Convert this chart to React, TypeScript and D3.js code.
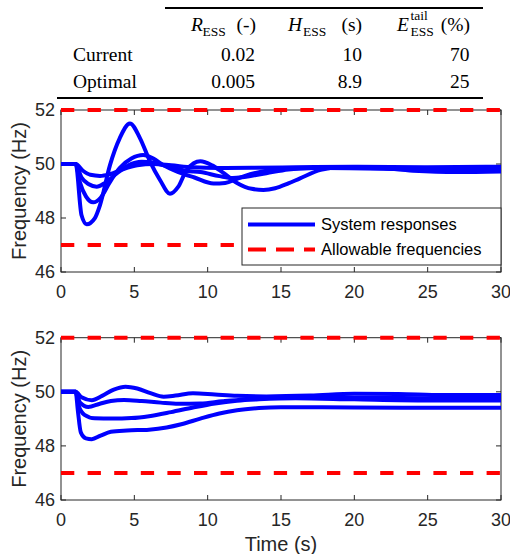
import React, { useEffect, useRef } from "react";
import * as d3 from "d3";

type Pt = [number, number];

// axis ticks and limits
const timeTicks = [0, 5, 10, 15, 20, 25, 30];
const freqTicks = [46, 48, 50, 52];
const freqLimits = [47, 52];

// table content
const rowNames = ["Current", "Optimal"];
const rEss = ["0.02", "0.005"];
const hEss = ["10", "8.9"];
const eTail = ["70", "25"];

const legendLabels = ["System responses", "Allowable frequencies"];

// current parameters: system responses [time (s), frequency (Hz)]
const currentA: Pt[] = [
  [0, 50], [1, 50], [1.4, 48.1], [1.75, 47.77], [2.3, 47.99], [2.66, 48.48], [3.34, 49.96],
  [4.0, 50.95], [4.7, 51.5], [5.39, 50.95], [6.07, 50.09], [6.75, 49.41], [7.43, 48.9],
  [8.0, 49.16], [8.57, 49.78], [9.5, 50.1], [10.3, 49.95], [11.0, 49.7], [12.0, 49.3],
  [13.0, 49.08], [13.8, 49.04], [14.6, 49.1], [15.5, 49.28], [16.3, 49.47], [17.7, 49.78],
  [19, 49.88], [21, 49.88], [24, 49.75], [27, 49.7], [30, 49.72],
];
const currentB: Pt[] = [
  [0, 50], [1, 50], [1.3, 49.3], [1.7, 48.8], [2.2, 48.58], [2.7, 48.75], [3.3, 49.3],
  [4.0, 49.85], [4.8, 50.2], [5.6, 50.33], [6.3, 50.2], [7.0, 49.95], [8.0, 49.7],
  [9.1, 49.5], [10.4, 49.28], [11.2, 49.3], [12.0, 49.45], [12.9, 49.62], [14, 49.75],
  [15.5, 49.82], [18, 49.85], [22, 49.82], [26, 49.76], [30, 49.76],
];
const currentC: Pt[] = [
  [0, 50], [1, 50], [1.4, 49.5], [1.9, 49.25], [2.43, 49.16], [3.0, 49.3], [3.8, 49.65],
  [4.6, 49.95], [5.5, 50.08], [6.3, 50.05], [7.2, 49.92], [8.5, 49.75], [9.5, 49.7],
  [10.8, 49.55], [11.7, 49.48], [12.5, 49.52], [14, 49.66], [15.5, 49.8], [17, 49.85],
  [20, 49.86], [25, 49.8], [30, 49.82],
];
const currentD: Pt[] = [
  [0, 50], [1, 50], [1.5, 49.75], [2.0, 49.6], [2.66, 49.56], [3.3, 49.62], [4.2, 49.8],
  [5.2, 49.95], [6.3, 50.0], [7.5, 49.95], [9, 49.88], [10.8, 49.85], [13, 49.86],
  [16, 49.88], [20, 49.9], [25, 49.88], [30, 49.9],
];

// optimal parameters: system responses
const optimalA: Pt[] = [
  [0, 50], [1, 50], [1.4, 49.8], [2.1, 49.69], [2.8, 49.85], [3.6, 50.08], [4.4, 50.19],
  [5.2, 50.12], [6.1, 49.95], [7.0, 49.82], [7.8, 49.86], [9.0, 49.95], [10.5, 49.9],
  [12, 49.85], [14, 49.83], [17, 49.86], [20, 49.93], [23, 49.92], [26, 49.88], [30, 49.88],
];
const optimalB: Pt[] = [
  [0, 50], [1, 50], [1.3, 49.6], [1.86, 49.44], [2.6, 49.55], [3.4, 49.66], [4.3, 49.7],
  [5.5, 49.66], [6.8, 49.6], [8, 49.56], [9.5, 49.57], [11, 49.65], [12.5, 49.72],
  [15, 49.78], [20, 49.78], [25, 49.76], [30, 49.75],
];
const optimalC: Pt[] = [
  [0, 50], [1, 50], [1.2, 49.5], [1.6, 49.15], [2.3, 49.02], [3.5, 49.01], [4.8, 49.03],
  [6, 49.1], [7.5, 49.25], [9, 49.42], [10.5, 49.57], [12, 49.67], [13.5, 49.72],
  [16, 49.76], [20, 49.72], [25, 49.68], [30, 49.68],
];
const optimalD: Pt[] = [
  [0, 50], [1, 50], [1.15, 49.3], [1.35, 48.5], [1.7, 48.28], [2.1, 48.25], [2.7, 48.38],
  [3.4, 48.52], [4.5, 48.57], [6, 48.6], [7.2, 48.68], [8.2, 48.8], [9.5, 49.01],
  [10.8, 49.2], [12, 49.32], [13.5, 49.4], [15, 49.43], [20, 49.42], [25, 49.41], [30, 49.41],
];

const App = () => {
  const svgRef = useRef<SVGSVGElement>(null);

  useEffect(() => {
    const svg = d3.select(svgRef.current);
    svg.selectAll("*").remove();

    const axisColor = "#262626";
    const sans = "'Liberation Sans', Arial, sans-serif";
    const serif = "'Liberation Serif', 'Times New Roman', serif";
    const blue = "#0000ff";
    const red = "#ff0000";

    // ---- table on top ----
    const table = svg.append("g").attr("font-family", serif).attr("fill", "#000");
    table.append("line").attr("x1", 165).attr("x2", 483).attr("y1", 8).attr("y2", 8)
      .attr("stroke", "#000").attr("stroke-width", 2);
    table.append("line").attr("x1", 57).attr("x2", 483).attr("y1", 98).attr("y2", 98)
      .attr("stroke", "#000").attr("stroke-width", 2);

    const headBase = 31;
    const subBase = 36;
    const hdr = (x: number, txt: string, size: number, y: number, italic = false, anchor = "start") =>
      table.append("text").attr("x", x).attr("y", y).attr("font-size", size)
        .attr("text-anchor", anchor)
        .attr("font-style", italic ? "italic" : "normal").text(txt);
    hdr(191, "R", 19.5, headBase, true);
    hdr(202.5, "ESS", 13.5, subBase);
    hdr(256, "(-)", 19.5, headBase, false, "end");
    hdr(288, "H", 19.5, headBase, true);
    hdr(303, "ESS", 13.5, subBase);
    hdr(362, "(s)", 19.5, headBase, false, "end");
    hdr(397, "E", 19.5, headBase, true);
    hdr(410.5, "tail", 13.5, 20);
    hdr(410.5, "ESS", 13.5, subBase);
    hdr(470, "(%)", 19.5, headBase, false, "end");

    const rowY = [61, 87.5];
    rowNames.forEach((name, i) => {
      table.append("text").attr("x", 73).attr("y", rowY[i]).attr("font-size", 19.5).text(name);
      table.append("text").attr("x", 255).attr("y", rowY[i]).attr("font-size", 19.5)
        .attr("text-anchor", "end").text(rEss[i]);
      table.append("text").attr("x", 362).attr("y", rowY[i]).attr("font-size", 19.5)
        .attr("text-anchor", "end").text(hEss[i]);
      table.append("text").attr("x", 469.5).attr("y", rowY[i]).attr("font-size", 19.5)
        .attr("text-anchor", "end").text(eTail[i]);
    });

    // ---- two frequency panels ----
    const x = d3.scaleLinear().domain([0, 30]).range([61, 501]);
    const panels = [
      { series: [currentA, currentB, currentC, currentD], top: 110, bottom: 272, legend: true, xlabel: false },
      { series: [optimalA, optimalB, optimalC, optimalD], top: 337.7, bottom: 500, legend: false, xlabel: true },
    ];

    panels.forEach((p) => {
      const y = d3.scaleLinear().domain([46, 52]).range([p.bottom, p.top]);
      const g = svg.append("g");

      // box
      g.append("rect").attr("x", x(0)).attr("y", y(52)).attr("width", x(30) - x(0))
        .attr("height", y(46) - y(52)).attr("fill", "#fff").attr("stroke", axisColor).attr("stroke-width", 1);

      // ticks (inside, all four sides)
      timeTicks.forEach((t) => {
        g.append("line").attr("x1", x(t)).attr("x2", x(t)).attr("y1", y(46)).attr("y2", y(46) - 5)
          .attr("stroke", axisColor);
        g.append("line").attr("x1", x(t)).attr("x2", x(t)).attr("y1", y(52)).attr("y2", y(52) + 5)
          .attr("stroke", axisColor);
        g.append("text").attr("x", x(t)).attr("y", y(46) + 25.5).attr("text-anchor", "middle")
          .attr("font-family", sans).attr("font-size", 18).attr("fill", axisColor).text(t);
      });
      freqTicks.forEach((f) => {
        g.append("line").attr("x1", x(0)).attr("x2", x(0) + 5).attr("y1", y(f)).attr("y2", y(f))
          .attr("stroke", axisColor);
        g.append("line").attr("x1", x(30)).attr("x2", x(30) - 5).attr("y1", y(f)).attr("y2", y(f))
          .attr("stroke", axisColor);
        g.append("text").attr("x", 55).attr("y", y(f)).attr("dy", "0.36em").attr("text-anchor", "end")
          .attr("font-family", sans).attr("font-size", 18).attr("fill", axisColor).text(f);
      });

      // y label
      g.append("text").attr("transform", `translate(26,${(y(46) + y(52)) / 2}) rotate(-90)`)
        .attr("text-anchor", "middle").attr("font-family", sans).attr("font-size", 20)
        .attr("fill", axisColor).text("Frequency (Hz)");

      if (p.xlabel) {
        g.append("text").attr("x", (x(0) + x(30)) / 2).attr("y", 551).attr("text-anchor", "middle")
          .attr("font-family", sans).attr("font-size", 20).attr("fill", axisColor).text("Time (s)");
      }

      // responses
      const line = d3.line<Pt>().x((d) => x(d[0])).y((d) => y(d[1])).curve(d3.curveMonotoneX);
      g.selectAll(".resp").data(p.series).enter().append("path")
        .attr("d", (d) => line(d))
        .attr("fill", "none").attr("stroke", blue).attr("stroke-width", 4)
        .attr("stroke-linejoin", "round");

      // allowable limits
      freqLimits.forEach((f) => {
        g.append("line").attr("x1", x(0)).attr("x2", x(30)).attr("y1", y(f)).attr("y2", y(f))
          .attr("stroke", red).attr("stroke-width", 4).attr("stroke-dasharray", "13.3 13.3");
      });

      if (p.legend) {
        const lg = g.append("g");
        lg.append("rect").attr("x", 242).attr("y", 208).attr("width", 259).attr("height", 57)
          .attr("fill", "#fff").attr("stroke", axisColor).attr("stroke-width", 1);
        lg.append("line").attr("x1", 248).attr("x2", 315).attr("y1", 224.5).attr("y2", 224.5)
          .attr("stroke", blue).attr("stroke-width", 4);
        lg.append("line").attr("x1", 248).attr("x2", 315).attr("y1", 249.5).attr("y2", 249.5)
          .attr("stroke", red).attr("stroke-width", 4).attr("stroke-dasharray", "18 10");
        legendLabels.forEach((lab, i) => {
          lg.append("text").attr("x", 321).attr("y", 224.5 + i * 25).attr("dy", "0.35em")
            .attr("font-family", sans).attr("font-size", 16.5).attr("fill", "#000").text(lab);
        });
      }
    });
  }, []);

  return (
    <svg
      ref={svgRef}
      width={510}
      height={554}
      style={{ position: "absolute", left: 0, top: 0, background: "#fff" }}
    />
  );
};

export default App;
